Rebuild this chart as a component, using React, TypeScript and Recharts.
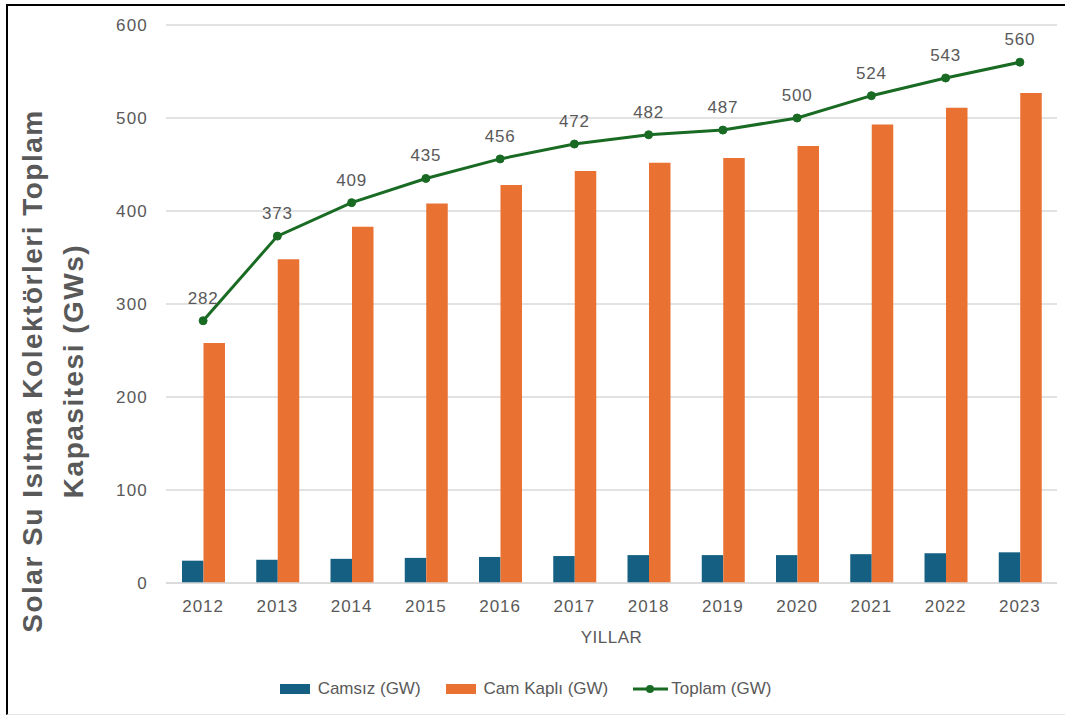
import React from "react";
import {
  ComposedChart,
  Bar,
  Line,
  XAxis,
  YAxis,
  CartesianGrid,
  LabelList,
  Legend,
} from "recharts";

// Yıllar ve kapasite değerleri (GW)
const years = ["2012", "2013", "2014", "2015", "2016", "2017", "2018", "2019", "2020", "2021", "2022", "2023"];
const camsiz = [24, 25, 26, 27, 28, 29, 30, 30, 30, 31, 32, 33];
const camKapli = [258, 348, 383, 408, 428, 443, 452, 457, 470, 493, 511, 527];
const toplam = [282, 373, 409, 435, 456, 472, 482, 487, 500, 524, 543, 560];
const yTicks = [0, 100, 200, 300, 400, 500, 600];

const data = years.map((y, i) => ({
  year: y,
  camsiz: camsiz[i],
  camKapli: camKapli[i],
  toplam: toplam[i],
}));

const FONT = "'Liberation Sans', Arial, sans-serif";
const TEXT = "#595959";
const BLUE = "#156082";
const ORANGE = "#E97132";
const GREEN = "#196B24";

const legendItems = [
  { label: "Camsız (GW)", color: BLUE, kind: "rect" },
  { label: "Cam Kaplı (GW)", color: ORANGE, kind: "rect" },
  { label: "Toplam (GW)", color: GREEN, kind: "line" },
];

const LegendContent = () => (
  <div
    style={{
      height: 63,
      boxSizing: "border-box",
      paddingTop: 26,
      paddingRight: 6,
      display: "flex",
      justifyContent: "center",
      alignItems: "flex-start",
      fontFamily: FONT,
      fontSize: 17,
      color: TEXT,
      lineHeight: "20px",
    }}
  >
    {legendItems.map((it) => (
      <div key={it.label} style={{ display: "flex", alignItems: "center", margin: "0 12.5px", height: 20 }}>
        <svg width={35} height={12} style={{ marginRight: 3 }}>
          {it.kind === "rect" ? (
            <rect x={0} y={1} width={30} height={10} fill={it.color} />
          ) : (
            <g>
              <line x1={0} y1={6} x2={35} y2={6} stroke={it.color} strokeWidth={3} />
              <circle cx={17} cy={6} r={4} fill={it.color} />
            </g>
          )}
        </svg>
        <span>{it.label}</span>
      </div>
    ))}
  </div>
);

const YTitle = () => (
  <g fontFamily={FONT} fontWeight="bold" fontSize={28} fill={TEXT} letterSpacing={1.5}>
    <text x={0} y={0} transform="translate(42,371) rotate(-90)" textAnchor="middle">
      Solar Su Isıtma Kolektörleri Toplam
    </text>
    <text x={0} y={0} transform="translate(83,371) rotate(-90)" textAnchor="middle">
      Kapasitesi (GWs)
    </text>
  </g>
);

const XTitle = (props: any) => {
  const vb = props.viewBox || {};
  return (
    <text
      x={vb.x + vb.width / 2}
      y={643}
      textAnchor="middle"
      fontFamily={FONT}
      fontSize={17}
      letterSpacing={0.5}
      fill={TEXT}
    >
      YILLAR
    </text>
  );
};

export default function App() {
  return (
    <div style={{ position: "absolute", left: 0, top: 0, width: 1065, height: 716, background: "#fff" }}>
      <div
        style={{
          position: "absolute",
          left: 6,
          top: 4,
          width: 1059,
          height: 711,
          borderTop: "2px solid #000",
          borderLeft: "2px solid #000",
          borderBottom: "1px solid #e6e6e6",
          boxSizing: "border-box",
        }}
      />
      <div style={{ position: "absolute", left: 0, top: 0 }}>
        <ComposedChart
          width={1065}
          height={716}
          data={data}
          margin={{ top: 25, right: 8, left: 0, bottom: 0 }}
          barGap={0}
        >
          <CartesianGrid vertical={false} stroke="#d9d9d9" strokeWidth={1.5} />
          <XAxis
            dataKey="year"
            axisLine={{ stroke: "#d9d9d9", strokeWidth: 1.5 }}
            tickLine={false}
            tickMargin={11}
            height={70}
            tick={{ fill: TEXT, fontSize: 17, fontFamily: FONT, letterSpacing: 1 }}
            label={{ content: <XTitle /> }}
          />
          <YAxis
            domain={[0, 600]}
            ticks={yTicks}
            width={166}
            axisLine={false}
            tickLine={false}
            tickMargin={12}
            tick={{ fill: TEXT, fontSize: 17, fontFamily: FONT, letterSpacing: 1.2 }}
            label={{ content: <YTitle /> }}
          />
          <Legend verticalAlign="bottom" height={63} content={<LegendContent />} />
          <Bar dataKey="camsiz" name="Camsız (GW)" fill={BLUE} barSize={21.5} isAnimationActive={false} />
          <Bar dataKey="camKapli" name="Cam Kaplı (GW)" fill={ORANGE} barSize={21.5} isAnimationActive={false} />
          <Line
            dataKey="toplam"
            name="Toplam (GW)"
            stroke={GREEN}
            strokeWidth={3}
            dot={{ r: 4, fill: GREEN, stroke: GREEN, strokeWidth: 1 }}
            isAnimationActive={false}
          >
            <LabelList
              dataKey="toplam"
              position="top"
              offset={17}
              fill={TEXT}
              fontSize={17}
              fontFamily={FONT}
              letterSpacing={0.8}
            />
          </Line>
        </ComposedChart>
      </div>
    </div>
  );
}
